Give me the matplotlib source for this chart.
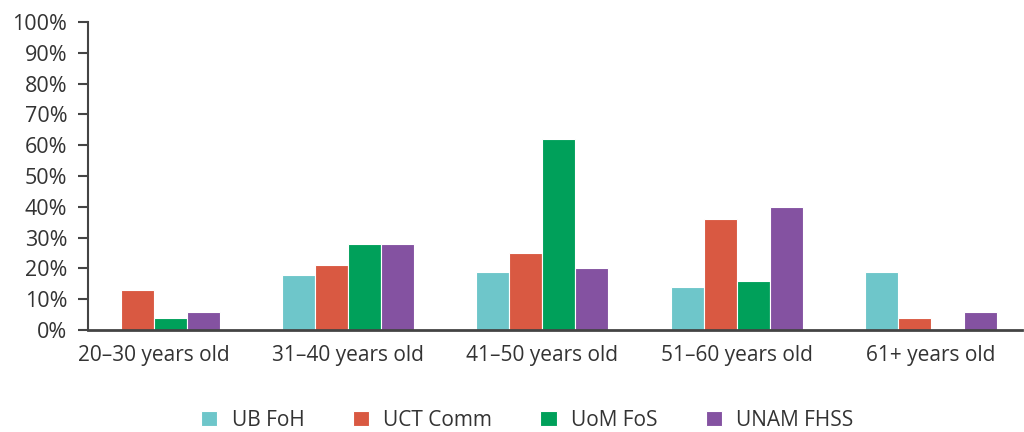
import matplotlib
matplotlib.use('Agg')
import matplotlib.pyplot as plt
import numpy as np
from matplotlib.ticker import MultipleLocator, PercentFormatter

categories = ['20–30 years old', '31–40 years old', '41–50 years old',
              '51–60 years old', '61+ years old']
series = ['UB FoH', 'UCT Comm', 'UoM FoS', 'UNAM FHSS']
ub_foh = [0, 18, 19, 14, 19]
uct_comm = [13, 21, 25, 36, 4]
uom_fos = [4, 28, 62, 16, 0]
unam_fhss = [6, 28, 20, 40, 6]
colors = ['#6EC6CA', '#D95942', '#00A05A', '#8452A1']

plt.rcParams['font.family'] = ['Open Sans', 'DejaVu Sans']
text_color = '#333333'
axis_color = '#444444'

fig = plt.figure(figsize=(10.24, 4.32), dpi=100)
ax = fig.add_axes([0.086, 0.236, 0.912, 0.713])

x = np.arange(len(categories))
width = 0.17
values = [ub_foh, uct_comm, uom_fos, unam_fhss]
for i, (name, vals, c) in enumerate(zip(series, values, colors)):
    ax.bar(x + (i - 1.5) * width, vals, width, color=c, label=name,
           edgecolor='white', linewidth=0.8)

ax.set_xlim(-0.34, 4.47)
ax.set_ylim(0, 100)
ax.yaxis.set_major_locator(MultipleLocator(10))
ax.yaxis.set_major_formatter(PercentFormatter(decimals=0))
ax.set_xticks(x)
ax.set_xticklabels(categories)

for side in ['top', 'right']:
    ax.spines[side].set_visible(False)
ax.spines['left'].set_color(axis_color)
ax.spines['left'].set_linewidth(1.5)
ax.spines['bottom'].set_color(axis_color)
ax.spines['bottom'].set_linewidth(2)
ax.tick_params(axis='y', length=7, width=1.5, color=axis_color,
               labelsize=15.5, labelcolor=text_color, pad=8)
ax.tick_params(axis='x', length=0, labelsize=15, labelcolor=text_color, pad=11)

fig.legend(loc='center', bbox_to_anchor=(0.515, 0.027), ncol=4, frameon=False,
           fontsize=15, handlelength=0.78, handleheight=0.78, handletextpad=0.7,
           columnspacing=2.3, labelcolor=text_color)

plt.savefig('out.png', dpi=100)
